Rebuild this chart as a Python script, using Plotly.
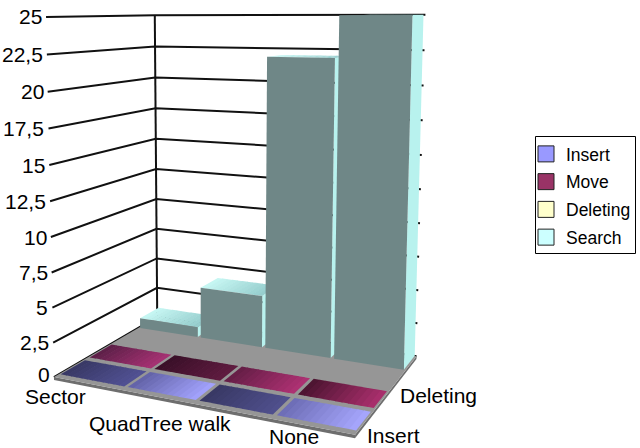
import numpy as np
import plotly.graph_objects as go

# ---- chart data ----
categories = ["Sector", "QuadTree walk", "None", ""]
series_names = ["Insert", "Move", "Deleting", "Search"]
insert_values = [0, 0, 0, 0]
move_values = [0, 0, 0, 0]
deleting_values = [None, None, None, None]
search_values = [0.8, 4.0, 22, 25]
z_ticks = [0, 2.5, 5, 7.5, 10, 12.5, 15, 17.5, 20, 22.5, 25]
z_labels = ["0", "2,5", "5", "7,5", "10", "12,5", "15", "17,5", "20", "22,5", "25"]
all_values = [insert_values, move_values, deleting_values, search_values]

# ---- styles ----
legend_colors = ["#9999ff", "#993366", "#ffffcc", "#ccffff"]
flat_shades = {
    0: [("#383864", "#525294"), ("#6262a6", "#a4a4ff"), ("#383864", "#50508e"), ("#6c6cb4", "#a8a8ff")],
    1: [("#5c2048", "#a83274"), ("#3a1028", "#601c40"), ("#641e46", "#b03274"), ("#4a1430", "#ac306e")],
}
bar_front = "#6f8787"
bar_side = "#b8f2ee"
bar_top = ("#c8f8f4", "#94cccc")
floor_color = "#969696"
floor_edge = "#6e6e6e"
font = "Liberation Sans"
gap = 0.025
depth_front = 0.17
depth_back = 1.0

# ---- perspective camera fitted to the box corners: (cat, series, value) -> pixel ----
world_pts = [(0, 0, 0), (4, 0, 0), (4, 4, 0), (0, 4, 0), (0, 0, 25), (0, 4, 25), (4, 4, 25)]
pixel_pts = [(55, 376), (355, 436), (417, 355), (156, 318), (45, 17), (156, 15), (425, 15)]
rows = []
for (wx, wy, wz), (px, py) in zip(world_pts, pixel_pts):
    X = [wx, wy, wz * 4 / 25, 1]
    u, v = px / 400, py / 400
    rows.append(X + [0, 0, 0, 0] + [-u * c for c in X])
    rows.append([0, 0, 0, 0] + X + [-v * c for c in X])
P = np.linalg.svd(np.array(rows, float))[2][-1].reshape(3, 4)


def project(x, y, z):
    w = P @ np.array([x, y, z * 4 / 25, 1.0])
    return 400 * w[0] / w[2], 400 * w[1] / w[2]


def hex_rgb(c):
    return np.array([int(c[i:i + 2], 16) for i in (1, 3, 5)], float)


def mix(a, b, t):
    r = hex_rgb(a) * (1 - t) + hex_rgb(b) * t
    return "rgb(%d,%d,%d)" % tuple(r)


fig = go.Figure()


def poly(points, color):
    pts = [project(*p) for p in points]
    pts.append(pts[0])
    fig.add_trace(go.Scatter(x=[p[0] for p in pts], y=[p[1] for p in pts], mode="none", fill="toself",
                             fillcolor=color, showlegend=False, hoverinfo="skip"))


def shaded_top(x0, x1, y0, y1, z, shade, n=12):
    for k in range(n):
        a = x0 + (x1 - x0) * k / n
        b = x0 + (x1 - x0) * (k + 1.15) / n
        b = min(b, x1)
        poly([(a, y0, z), (b, y0, z), (b, y1, z), (a, y1, z)], mix(shade[0], shade[1], (k + .5) / n))


# legend entries
for name, col in zip(series_names, legend_colors):
    fig.add_trace(go.Scatter(x=[None], y=[None], mode="markers", name=name, legendgroup=name,
                             marker=dict(symbol="square", size=16, color=col, line=dict(color="#222222", width=1))))

# wall grid lines
gx, gy = [], []
for t in z_ticks:
    for p in [project(0, 0, t), project(0, 4, t), project(4, 4, t)]:
        gx.append(p[0]); gy.append(p[1])
    gx.append(None); gy.append(None)
for p in [project(0, 4, 0), project(0, 4, 25)]:
    gx.append(p[0]); gy.append(p[1])
fig.add_trace(go.Scatter(x=gx, y=gy, mode="lines", line=dict(color="#111111", width=2),
                         showlegend=False, hoverinfo="skip"))

# floor
poly([(0, 0, 0), (4, 0, 0), (4, 0, -0.22), (0, 0, -0.22)], floor_edge)
poly([(4, 0, 0), (4, 4, 0), (4, 4, -0.22), (4, 0, -0.22)], floor_edge)
poly([(0, 0, 0), (4, 0, 0), (4, 4, 0), (0, 4, 0)], floor_color)

# bars, back row first and left to right
for r in (3, 2, 1, 0):
    for c, val in enumerate(all_values[r]):
        if val is None:
            continue
        x0, x1, y0, y1 = c + gap, c + 1 - gap, r + depth_front, r + depth_back
        if val == 0:
            shaded_top(x0, x1, y0, y1, 0, flat_shades[r][c])
            continue
        poly([(x1, y0, 0), (x1, y1, 0), (x1, y1, val), (x1, y0, val)], bar_side)
        shaded_top(x0, x1, y0, y1, val, bar_top)
        poly([(x0, y0, 0), (x1, y0, 0), (x1, y0, val), (x0, y0, val)], bar_front)

# axis text
annotations = []
for t, lab in zip(z_ticks, z_labels):
    px, py = project(0, 0, t)
    annotations.append(dict(x=px - 2, y=py - (3 if t == 0 else 0), text=lab, xanchor="right",
                            yanchor="middle", showarrow=False))
cat_label_xy = [(55, 396), (160, 423), (294, 436)]
for lab, (px, py) in zip(categories, cat_label_xy):
    annotations.append(dict(x=px, y=py, text=lab, xanchor="center", yanchor="middle", showarrow=False))
depth_label_xy = {"Insert": (393, 435), "Deleting": (438, 395)}
for lab, (px, py) in depth_label_xy.items():
    annotations.append(dict(x=px, y=py, text=lab, xanchor="center", yanchor="middle", showarrow=False))
for a in annotations:
    a.update(xref="x", yref="y", font=dict(family=font, size=21, color="#000000"))

fig.update_layout(
    width=640, height=448, margin=dict(l=0, r=0, t=0, b=0),
    paper_bgcolor="white", plot_bgcolor="white",
    xaxis=dict(range=[0, 640], visible=False, fixedrange=True),
    yaxis=dict(range=[448, 0], visible=False, fixedrange=True),
    annotations=annotations,
    legend=dict(x=526 / 640, y=1 - 136 / 448, xanchor="left", yanchor="top", bgcolor="rgba(0,0,0,0)",
                borderwidth=0, tracegroupgap=2, font=dict(family=font, size=17.5, color="#000000"),
                itemclick=False, itemdoubleclick=False),
    shapes=[dict(type="rect", xref="x", yref="y", x0=535.5, x1=635.5, y0=136.5, y1=253.5,
                 line=dict(color="#000000", width=1), fillcolor="rgba(0,0,0,0)")],
)
fig.write_html("out.html", config=dict(displayModeBar=False), post_script="document.body.style.margin='0';")
